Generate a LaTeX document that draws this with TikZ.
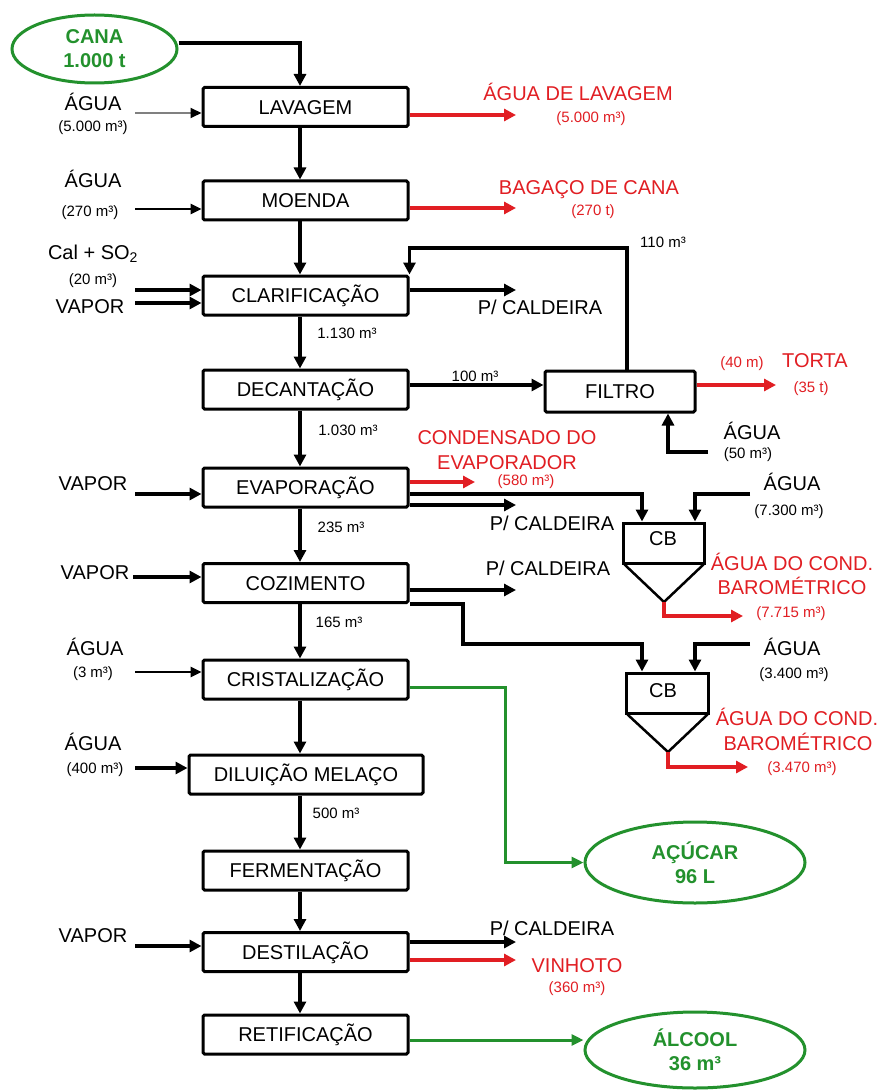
\documentclass[tikz,border=0pt]{standalone}
\usepackage{fontspec}
\setmainfont{Liberation Sans}
\usetikzlibrary{arrows.meta,shapes.geometric,calc}
\definecolor{myred}{RGB}{225,30,35}
\definecolor{mygreen}{RGB}{35,145,45}
\begin{document}
\begin{tikzpicture}[x=1pt,y=-1pt,
 big/.style={font=\fontsize{20}{24}\selectfont, inner sep=0pt, text height=14.3pt, text depth=0pt},
 small/.style={font=\fontsize{15}{18}\selectfont, inner sep=0pt, text height=10.7pt, text depth=0pt},
 proc/.style={big, draw, line width=3pt, rounded corners=1.5pt, minimum width=205pt, minimum height=39pt},
 flow/.style={line width=3.2pt, -{Triangle[length=12pt,width=12pt]}},
 thin flow/.style={line width=2.5pt, -{Triangle[length=11pt,width=10pt]}},
 rflow/.style={line width=3.5pt, draw=myred, -{Triangle[length=12pt,width=12pt]}},
 gflow/.style={line width=3pt, draw=mygreen, -{Triangle[length=12pt,width=11pt]}},
 rtext/.style={text=myred},
 prod/.style={ellipse, draw=mygreen, line width=3pt, text=mygreen, font=\bfseries\fontsize{20}{24}\selectfont, align=center, inner sep=0pt},
 cbbox/.style={draw, line width=3pt, minimum width=81pt, minimum height=40pt, inner sep=0pt},
]
\fill[white] (0,0) rectangle (881,1091);
\useasboundingbox (0,0) rectangle (881,1091);

% process boxes
\node[proc] (lav) at (305.5,107) {LAVAGEM};
\node[proc] (moe) at (305.5,200.5) {MOENDA};
\node[proc] (cla) at (305.5,295.5) {CLARIFICAÇÃO};
\node[proc] (dec) at (305.5,389.5) {DECANTAÇÃO};
\node[proc] (eva) at (305.5,487.5) {EVAPORAÇÃO};
\node[proc] (coz) at (305.5,583) {COZIMENTO};
\node[proc] (cri) at (305.5,679.5) {CRISTALIZAÇÃO};
\node[proc, minimum width=234pt] (dil) at (306,774.5) {DILUIÇÃO MELAÇO};
\node[proc] (fer) at (305.5,870.5) {FERMENTAÇÃO};
\node[proc] (des) at (305.5,952) {DESTILAÇÃO};
\node[proc] (ret) at (305.5,1034.5) {RETIFICAÇÃO};
\node[proc, minimum width=150pt, minimum height=41pt] (fil) at (620,391.5) {FILTRO};

% barometric condensers
\node[cbbox] (cb1) at (663.5,543) {};
\node[big] (cb1t) at (663,538) {CB};
\coordinate (cb1apex) at (664,602);
\draw[line width=2.5pt, line join=round] ([xshift=3pt]cb1.south west) -- (cb1apex) -- ([xshift=-2pt]cb1.south east);
\node[cbbox, minimum width=82pt] (cb2) at (667,693) {};
\node[big] (cb2t) at (663,690) {CB};
\coordinate (cb2apex) at (668,752);
\draw[line width=2.5pt, line join=round] ([xshift=3pt]cb2.south west) -- (cb2apex) -- ([xshift=-2pt]cb2.south east);

% products
\node[prod, minimum width=165pt, minimum height=68pt] (cana) at (94.5,49) {CANA\\1.000 t};
\node[prod, minimum width=220pt, minimum height=81pt] (acu) at (695,862.5) {AÇÚCAR\\96 L};
\node[prod, minimum width=220pt, minimum height=76pt] (alc) at (695,1050) {ÁLCOOL\\36 m³};

% main line
\coordinate (ax) at (300,0);
\foreach \a/\b in {lav/moe,moe/cla,cla/dec,dec/eva,eva/coz,coz/cri,cri/dil,dil/fer,fer/des,des/ret}
  \draw[flow] (\a.south -| ax) -- (\b.north -| ax);
\draw[flow] ([yshift=6pt]cana.east) -| (lav.north -| ax);

% left inputs
\coordinate (i1) at (135,113);
\draw[line width=2pt, draw=gray, -{Triangle[length=11pt,width=10pt,color=black]}] (i1) -- (i1 -| lav.west);
\coordinate (i2) at (135,209);
\draw[thin flow] (i2) -- (i2 -| moe.west);
\coordinate (i3a) at (135,290);
\draw[flow] (i3a) -- (i3a -| cla.west);
\coordinate (i3b) at (135,303);
\draw[flow] (i3b) -- (i3b -| cla.west);
\coordinate (i4) at (135,494);
\draw[flow] (i4) -- (i4 -| eva.west);
\coordinate (i5) at (133,577);
\draw[line width=4pt, -{Triangle[length=12pt,width=12pt]}] (i5) -- (i5 -| coz.west);
\coordinate (i6) at (135,672);
\draw[thin flow] (i6) -- (i6 -| cri.west);
\coordinate (i7) at (135,768);
\draw[flow] (i7) -- (i7 -| dil.west);
\coordinate (i8) at (135,946);
\draw[flow] (i8) -- (i8 -| des.west);

% left labels
\node[big] (l1) at (93,103.5) {ÁGUA};
\node[small] (l1b) at (93,126.5) {(5.000 m³)};
\node[big] (l2) at (93,180) {ÁGUA};
\node[small] (l2b) at (90,211) {(270 m³)};
\node[big] (l3) at (93,252) {Cal + SO\textsubscript{2}};
\node[small] (l3b) at (93,279) {(20 m³)};
\node[big] (l3c) at (90,306) {VAPOR};
\node[big] (l4) at (93,483) {VAPOR};
\node[big] (l5) at (95,572) {VAPOR};
\node[big] (l6) at (95,648) {ÁGUA};
\node[small] (l6b) at (93,672) {(3 m³)};
\node[big] (l7) at (93,743) {ÁGUA};
\node[small] (l7b) at (95,768) {(400 m³)};
\node[big] (l8) at (93,935) {VAPOR};

% flow quantities on main line
\node[small] (q1) at (347,333) {1.130 m³};
\node[small] (q2) at (348,430) {1.030 m³};
\node[small] (q3) at (341,527) {235 m³};
\node[small] (q4) at (339,622) {165 m³};
\node[small] (q5) at (336,813) {500 m³};

% right outputs
\coordinate (o1) at (516,115);
\draw[rflow] (o1 -| lav.east) -- (o1);
\node[big, rtext] (r1) at (578,93) {ÁGUA DE LAVAGEM};
\node[small, rtext] (r1b) at (591,117) {(5.000 m³)};
\coordinate (o2) at (516,208);
\draw[rflow] (o2 -| moe.east) -- (o2);
\node[big, rtext] (r2) at (589,187) {BAGAÇO DE CANA};
\node[small, rtext] (r2b) at (593,210) {(270 t)};

\coordinate (o3) at (516,290);
\draw[flow] (o3 -| cla.east) -- (o3);
\node[big] (c1) at (540,307) {P/ CALDEIRA};

\coordinate (rc) at (627,248);
\draw[flow] (rc |- fil.north) -- (rc) -| (cla.north east);
\node[small] (q6) at (663,242) {110 m³};

\draw[flow] ([yshift=4.5pt]dec.east) coordinate (d1) -- (d1 -| fil.west);
\node[small] (q7) at (475,376) {100 m³};

\coordinate (o4) at (776,385);
\draw[rflow] (o4 -| fil.east) -- (o4);
\node[small, rtext] (r3a) at (742,362) {(40 m)};
\node[big, rtext] (r3) at (815,360) {TORTA};
\node[small, rtext] (r3b) at (811,387) {(35 t)};

\coordinate (fw) at (708,452);
\draw[flow] (fw) -| ([xshift=48pt]fil.south);
\node[big] (w0) at (752,432) {ÁGUA};
\node[small] (w0b) at (748,453) {(50 m³)};

% evaporation outputs
\coordinate (o5) at (475,482);
\draw[rflow] (o5 -| eva.east) -- (o5);
\node[big, rtext] (r4) at (507,437) {CONDENSADO DO};
\node[big, rtext] (r4a) at (507,462) {EVAPORADOR};
\node[small, rtext] (r4b) at (526,480) {(580 m³)};
\coordinate (b1) at (642,494);
\draw[flow] (b1 -| eva.east) -| (b1 |- cb1.north);
\coordinate (o6) at (516,505);
\draw[flow] (o6 -| eva.east) -- (o6);
\node[big] (c2) at (552,523) {P/ CALDEIRA};
\coordinate (w1) at (750,494);
\coordinate (w1x) at (695,0);
\draw[flow] (w1) -| (w1x |- cb1.north);
\node[big] (w1t) at (792,483) {ÁGUA};
\node[small] (w1b) at (789,510) {(7.300 m³)};
\coordinate (o7) at (743,616);
\draw[rflow] (cb1apex) |- (o7);
\node[big, rtext] (r5) at (792,563) {ÁGUA DO COND.};
\node[big, rtext] (r5a) at (792,587) {BAROMÉTRICO};
\node[small, rtext] (r5b) at (791,612) {(7.715 m³)};

% cooking outputs
\coordinate (o8) at (516,590);
\draw[flow] (o8 -| coz.east) -- (o8);
\node[big] (c3) at (548,568) {P/ CALDEIRA};
\coordinate (b2) at (463,644);
\coordinate (b2x) at (642,0);
\draw[flow] (coz.south east) -| (b2) -| (b2x |- cb2.north);
\coordinate (w2) at (750,644);
\draw[flow] (w2) -| (w1x |- cb2.north);
\node[big] (w2t) at (792,648) {ÁGUA};
\node[small] (w2b) at (794,673) {(3.400 m³)};
\coordinate (o9) at (748,767);
\draw[rflow] (cb2apex) |- (o9);
\node[big, rtext] (r6) at (797,718) {ÁGUA DO COND.};
\node[big, rtext] (r6a) at (798,743) {BAROMÉTRICO};
\node[small, rtext] (r6b) at (802,767) {(3.470 m³)};

% sugar
\coordinate (g1) at (505,687);
\draw[gflow] (g1 -| cri.east) -- (g1) |- (acu.west);

% distillation outputs
\coordinate (o10) at (516,942);
\draw[flow] (o10 -| des.east) -- (o10);
\node[big] (c4) at (552,928) {P/ CALDEIRA};
\coordinate (o11) at (516,960);
\draw[rflow] (o11 -| des.east) -- (o11);
\node[big, rtext] (r7) at (577,965) {VINHOTO};
\node[small, rtext] (r7b) at (577,987) {(360 m³)};

% alcohol
\draw[gflow] ([yshift=-5.5pt]ret.east) coordinate (rr) -- (rr -| alc.west);
\end{tikzpicture}
\end{document}
